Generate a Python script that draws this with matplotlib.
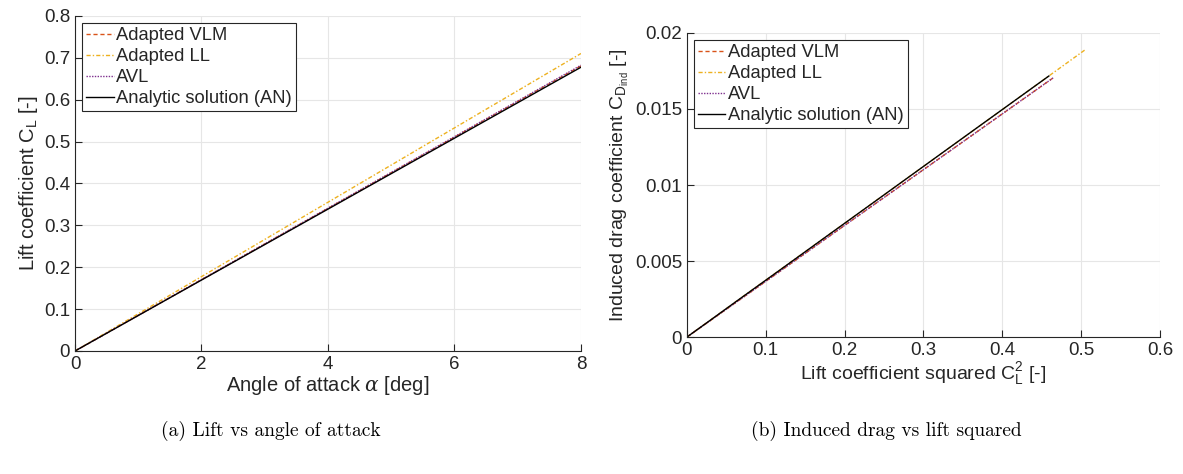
import matplotlib
matplotlib.use('Agg')
import matplotlib.pyplot as plt

plt.rcParams.update({
    'font.family': ['Liberation Sans', 'DejaVu Sans'],
    'font.size': 13,
    'mathtext.fontset': 'custom',
    'mathtext.rm': 'Liberation Sans',
    'mathtext.it': 'DejaVu Serif:italic',
    'mathtext.default': 'regular',
    'text.color': '#262626',
    'axes.labelcolor': '#262626',
    'xtick.color': '#262626',
    'ytick.color': '#262626',
})

# angle of attack [deg]
alpha = [0, 1, 2, 3, 4, 5, 6, 7, 8]

# lift coefficient per method
cl_vlm = [0, 0.0851, 0.1702, 0.2553, 0.3404, 0.4255, 0.5106, 0.5957, 0.6808]
cl_ll = [0, 0.0888, 0.1776, 0.2664, 0.3552, 0.4440, 0.5328, 0.6216, 0.7104]
cl_avl = [0, 0.0853, 0.1706, 0.2559, 0.3412, 0.4265, 0.5118, 0.5971, 0.6824]
cl_an = [0, 0.0847, 0.1694, 0.2541, 0.3388, 0.4235, 0.5082, 0.5929, 0.6776]

# lift coefficient squared and induced drag per method
cl2_vlm = [0, 0.0072, 0.0290, 0.0652, 0.1159, 0.1811, 0.2607, 0.3549, 0.4635]
cdi_vlm = [0, 0.00026, 0.00106, 0.00239, 0.00425, 0.00665, 0.00957, 0.01302, 0.01701]
cl2_ll = [0, 0.0079, 0.0315, 0.0710, 0.1262, 0.1971, 0.2839, 0.3864, 0.5047]
cdi_ll = [0, 0.00030, 0.00118, 0.00266, 0.00472, 0.00737, 0.01062, 0.01445, 0.01888]
cl2_avl = [0, 0.0073, 0.0291, 0.0655, 0.1164, 0.1819, 0.2619, 0.3565, 0.4657]
cdi_avl = [0, 0.00027, 0.00107, 0.00240, 0.00427, 0.00668, 0.00961, 0.01308, 0.01709]
cl2_an = [0, 0.0072, 0.0287, 0.0646, 0.1148, 0.1794, 0.2583, 0.3515, 0.4591]
cdi_an = [0, 0.00027, 0.00107, 0.00242, 0.00429, 0.00671, 0.00966, 0.01315, 0.01717]

labels = ['Adapted VLM', 'Adapted LL', 'AVL', 'Analytic solution (AN)']
styles = [('#D95319', (0, (3, 2))), ('#EDB120', (0, (3, 1.5, 1, 1.5))),
          ('#7E2F8E', (0, (1, 1))), ('black', '-')]

fig = plt.figure(figsize=(11.83, 4.74), dpi=100)
ax1 = fig.add_axes([0.0634, 0.2595, 0.4277, 0.7068])
ax2 = fig.add_axes([0.5807, 0.2890, 0.3998, 0.6414])


def style_axes(ax):
    ax.grid(True, color='#E6E6E6', linewidth=0.8)
    ax.set_axisbelow(True)
    for s in ['top', 'right']:
        ax.spines[s].set_visible(False)
    for s in ['left', 'bottom']:
        ax.spines[s].set_color('#262626')
        ax.spines[s].set_linewidth(0.8)
    ax.tick_params(direction='in', length=5, width=0.8, labelsize=13.5)
    leg = ax.legend(loc='upper left', fontsize=13.2, handlelength=1.5, handletextpad=0.15,
                    borderpad=0.2, labelspacing=0.22, fancybox=False, framealpha=1,
                    edgecolor='#262626', borderaxespad=0.4)
    leg.get_frame().set_linewidth(0.8)


for y, lab, (c, ls) in zip([cl_vlm, cl_ll, cl_avl, cl_an], labels, styles):
    ax1.plot(alpha, y, color=c, linestyle=ls, linewidth=1.0, label=lab)
ax1.set_xlim(0, 8)
ax1.set_ylim(0, 0.8)
ax1.set_xticks([0, 2, 4, 6, 8])
ax1.set_yticks([0, 0.1, 0.2, 0.3, 0.4, 0.5, 0.6, 0.7, 0.8])
ax1.set_yticklabels(['0', '0.1', '0.2', '0.3', '0.4', '0.5', '0.6', '0.7', '0.8'])
ax1.set_xlabel(r'Angle of attack $\mathit{\alpha}$ [deg]', fontsize=14.5, labelpad=1)
ax1.set_ylabel(r'Lift coefficient C$_L$ [-]', fontsize=14.5, labelpad=3)
style_axes(ax1)

xs = [cl2_vlm, cl2_ll, cl2_avl, cl2_an]
ys = [cdi_vlm, cdi_ll, cdi_avl, cdi_an]
for x, y, lab, (c, ls) in zip(xs, ys, labels, styles):
    ax2.plot(x, y, color=c, linestyle=ls, linewidth=1.0, label=lab)
ax2.set_xlim(0, 0.6)
ax2.set_ylim(0, 0.02)
ax2.set_xticks([0, 0.1, 0.2, 0.3, 0.4, 0.5, 0.6])
ax2.set_xticklabels(['0', '0.1', '0.2', '0.3', '0.4', '0.5', '0.6'])
ax2.set_yticks([0, 0.005, 0.01, 0.015, 0.02])
ax2.set_yticklabels(['0', '0.005', '0.01', '0.015', '0.02'])
ax2.set_xlabel(r'Lift coefficient squared C$_L^2$ [-]', fontsize=14, labelpad=1)
ax2.set_ylabel(r'Induced drag coefficient C$_{D_{ind}}$ [-]', fontsize=14, labelpad=3)
style_axes(ax2)

fig.text(0.229, 0.09, '(a) Lift vs angle of attack', fontsize=14, family='cmr10',
         ha='center', va='center', color='black')
fig.text(0.749, 0.09, '(b) Induced drag vs lift squared', fontsize=14, family='cmr10',
         ha='center', va='center', color='black')

fig.savefig('out.png', dpi=100, facecolor='white')
